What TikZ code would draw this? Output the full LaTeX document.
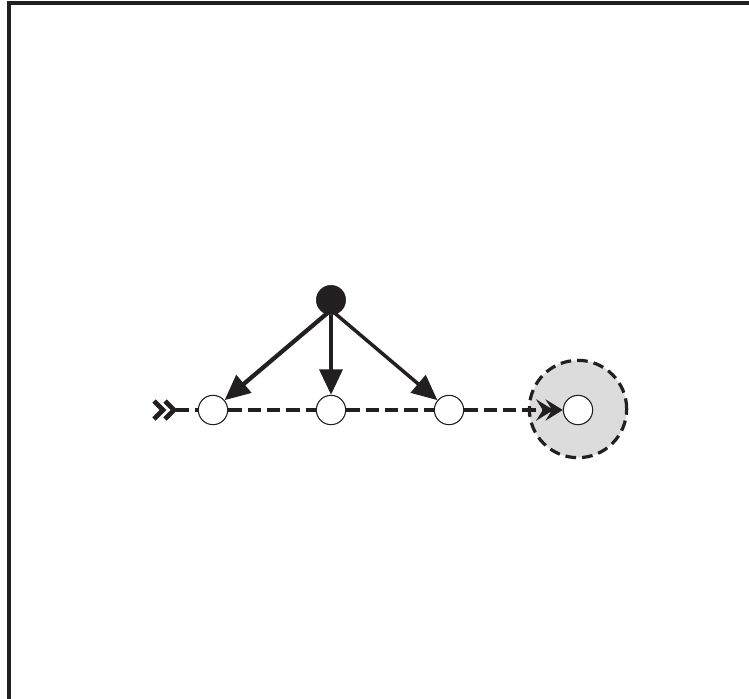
\documentclass[tikz,border=0pt]{standalone}
\usetikzlibrary{arrows.meta}
\definecolor{ink}{HTML}{231F20}
\definecolor{halo}{HTML}{DCDCDC}
\tikzset{
  px/.style={x=0.75pt,y=-0.75pt},
  state/.style={circle,draw=ink,line width=0.8pt,fill=white,minimum size=22pt,inner sep=0pt},
  source/.style={circle,fill=ink,draw=ink,minimum size=22pt,inner sep=0pt},
  solidarrow/.style={draw=ink,line width=3.2pt,-{Triangle[length=19pt,width=17pt]}},
  flow/.style={draw=ink,line width=3pt,dash pattern=on 10pt off 4.5pt},
  headtip/.style={Stealth[length=13pt,width=16pt,inset=5pt]},
}
\begin{document}
\begin{tikzpicture}[px]
\useasboundingbox (0,0) rectangle (749,699);
% frame (top and left edges only)
\draw[ink,line width=2.4pt] (9,700) -- (9,3) -- (750,3);
% halo around target
\node[circle,fill=halo,draw=ink,line width=2.4pt,dash pattern=on 8pt off 4.5pt,minimum size=73pt,inner sep=0pt] (halo) at (578,409) {};
% nodes
\node[source] (s) at (331,300) {};
\node[state] (c1) at (213,410) {};
\node[state] (c2) at (331,410) {};
\node[state] (c3) at (449,410) {};
\node[state] (c4) at (578,410) {};
\coordinate (in) at (176,410);
% entry chevrons
\draw[ink,line width=3.5pt,miter limit=10] (154,401) -- (163,410) -- (154,419);
\draw[ink,line width=3.5pt,miter limit=10] (165,401) -- (174,410) -- (165,419);
% dashed flow
\draw[flow] (in) -- (c1);
\draw[flow] (c1) -- (c2);
\draw[flow] (c2) -- (c3);
\draw[flow,-{Stealth[length=13pt,width=16pt,inset=5pt,sep=-6pt]Stealth[length=13pt,width=16pt,inset=5pt]}] (c3) -- (c4);
% arrows from source
\draw[solidarrow] (s.center) ++(0,10) -- (c1);
\draw[solidarrow] (s) -- (c2);
\draw[solidarrow,line width=2.6pt] (s.center) ++(0,10) -- (c3);
\end{tikzpicture}
\end{document}
